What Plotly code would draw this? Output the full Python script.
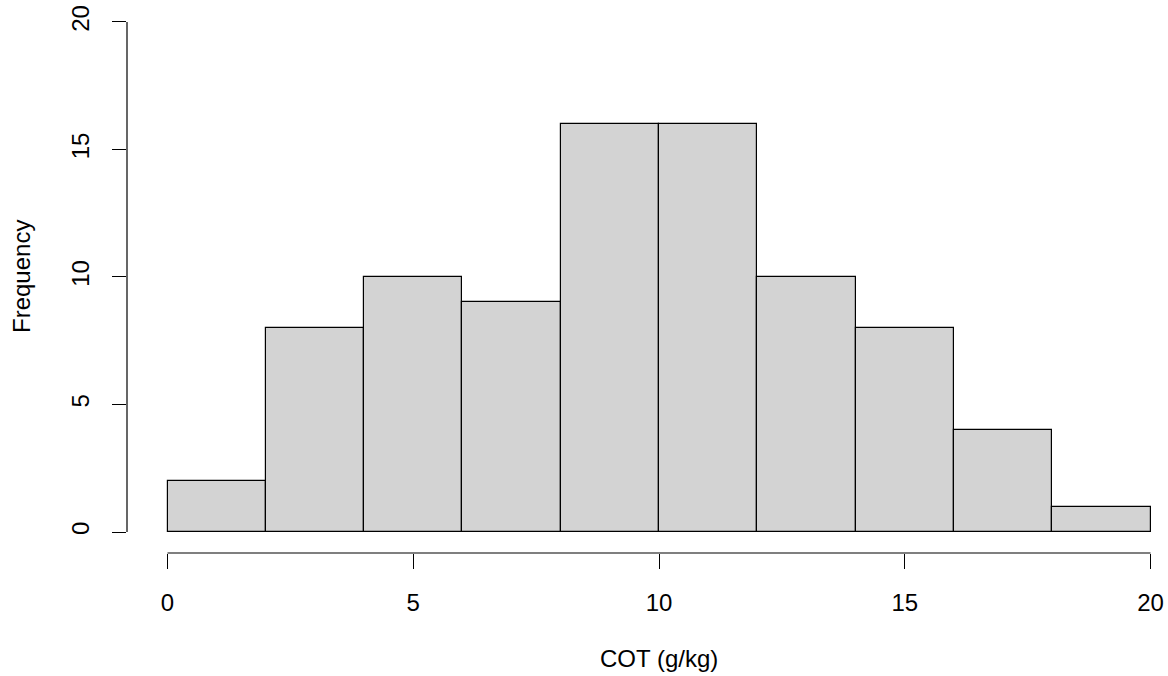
import plotly.graph_objects as go

# Histogram data (COT in g/kg), bins of width 2
bin_starts = [0, 2, 4, 6, 8, 10, 12, 14, 16, 18]
bin_width = 2
frequencies = [2, 8, 10, 9, 16, 16, 10, 8, 4, 1]
x_ticks = [0, 5, 10, 15, 20]
y_ticks = [0, 5, 10, 15, 20]
x_title = "COT (g/kg)"
y_title = "Frequency"

FONT = "Liberation Sans, Arial, sans-serif"
FS = 24

centers = [s + bin_width / 2 for s in bin_starts]

fig = go.Figure(
    go.Bar(
        x=centers,
        y=frequencies,
        width=[bin_width] * len(centers),
        marker=dict(color="#D3D3D3", line=dict(color="black", width=1.2)),
        hoverinfo="x+y",
    )
)

fig.update_layout(
    width=1168,
    height=676,
    margin=dict(l=127, r=6, t=10, b=123, autoexpand=False),
    paper_bgcolor="white",
    plot_bgcolor="white",
    showlegend=False,
    font=dict(family=FONT, size=FS, color="black"),
    bargap=0,
)

fig.update_xaxes(
    range=[-0.824, 20.234],
    tickvals=x_ticks,
    ticktext=[str(v) for v in x_ticks],
    ticks="outside",
    ticklen=15,
    tickwidth=1,
    tickcolor="black",
    showgrid=False,
    zeroline=False,
    showline=False,
    automargin=False,
    ticklabelstandoff=13,
    tickfont=dict(family=FONT, size=FS, color="black"),
)
fig.update_yaxes(
    range=[-0.8235, 20.47],
    tickvals=y_ticks,
    ticktext=[str(v) for v in y_ticks],
    ticks="outside",
    ticklen=14,
    tickwidth=1,
    tickcolor="black",
    tickangle=-90,
    showgrid=False,
    zeroline=False,
    showline=False,
    automargin=False,
    ticklabelstandoff=13,
    tickfont=dict(family=FONT, size=FS, color="black"),
)

# R-style detached axis lines spanning the tick range
fig.add_shape(type="line", xref="x", yref="paper", x0=min(x_ticks), x1=max(x_ticks),
              y0=0, y1=0, line=dict(color="black", width=1.2))
fig.add_shape(type="line", xref="paper", yref="y", x0=0, x1=0,
              y0=min(y_ticks), y1=max(y_ticks), line=dict(color="black", width=1.2))

# Axis titles centred on the data range
fig.add_annotation(text=x_title, xref="x", yref="paper", x=(min(x_ticks) + max(x_ticks)) / 2,
                   y=0, yanchor="middle", yshift=-105, showarrow=False,
                   font=dict(family=FONT, size=FS, color="black"))
fig.add_annotation(text=y_title, xref="paper", yref="y", x=0, y=(min(y_ticks) + max(y_ticks)) / 2,
                   xanchor="center", xshift=-105, textangle=-90, showarrow=False,
                   font=dict(family=FONT, size=FS, color="black"))

fig.write_html("out.html")
